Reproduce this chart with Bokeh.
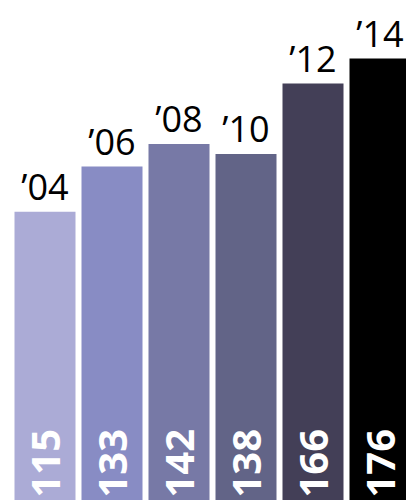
import numpy as np
from bokeh.plotting import figure
from bokeh.models import ColumnDataSource, Range1d
from bokeh.core.properties import value
from bokeh.embed import file_html
from bokeh.resources import INLINE

years = ["’04", "’06", "’08", "’10", "’12", "’14"]
values = [115, 133, 142, 138, 166, 176]
value_labels = ["115", "133", "142", "138", "166", "176"]
colors = ["#ABABD6", "#888CC4", "#7779A6", "#626487", "#433F57", "#000000"]

x = np.arange(len(years))
src = ColumnDataSource(dict(x=x, top=values, year=years, vlab=value_labels,
                            color=colors, zero=[0] * len(values)))

p = figure(width=406, height=500, output_backend="svg", toolbar_location=None,
           x_range=Range1d(-0.6642, 5.3955), y_range=Range1d(0, 199.1),
           min_border=0, outline_line_color=None)
p.xaxis.visible = False
p.yaxis.visible = False
p.grid.visible = False
p.background_fill_color = "white"
p.border_fill_color = "white"

p.vbar(x="x", top="top", bottom=0, width=61 / 67, color="color", line_color=None, source=src)

p.text(x="x", y="top", text="year", source=src, text_align="center",
       text_baseline="alphabetic", y_offset=-25, text_font=value("Open Sans"),
       text_font_size="36px", text_color="black")

p.text(x="x", y="zero", text="vlab", source=src, angle=np.pi / 2,
       text_align="left", text_baseline="middle", x_offset=1, y_offset=-3,
       text_font=value("Open Sans"), text_font_style="bold",
       text_font_size="40px", text_color="white")

open("out.html", "w").write(file_html(p, INLINE))
